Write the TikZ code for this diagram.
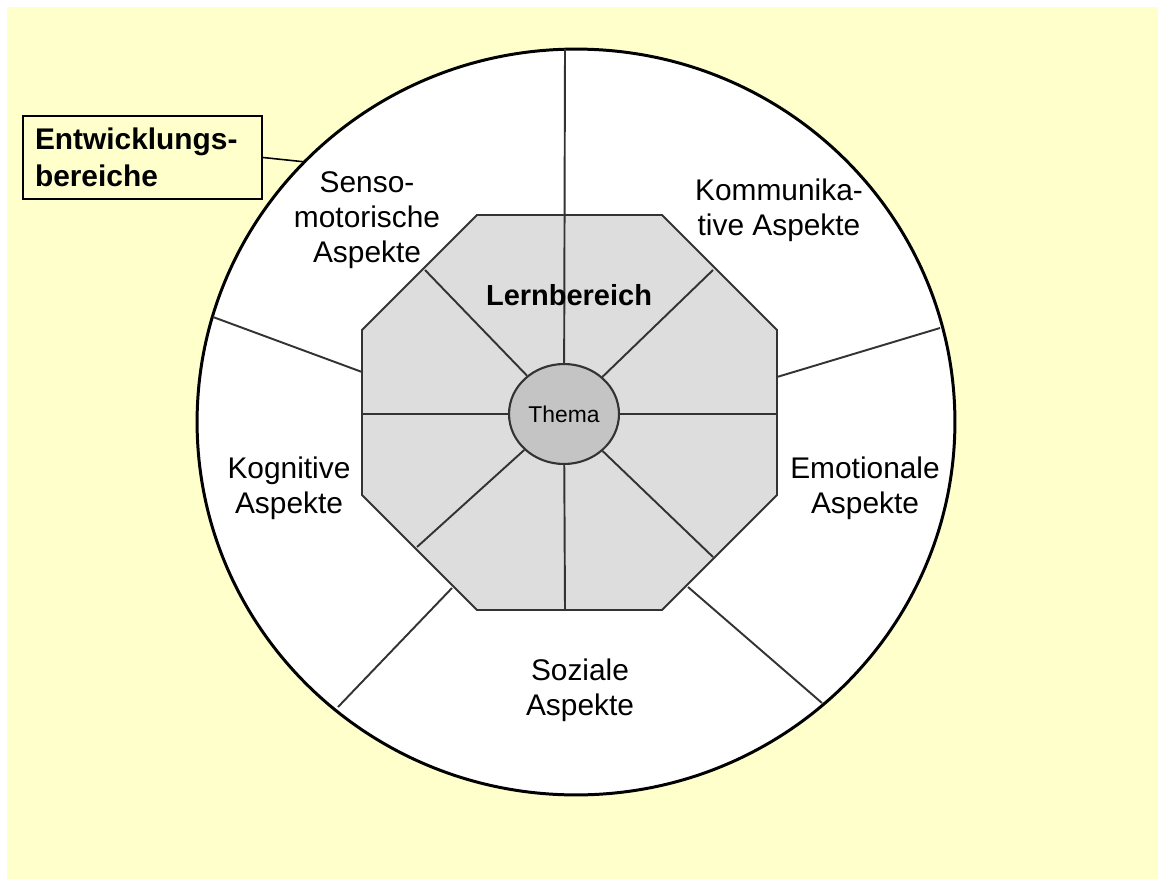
\documentclass[tikz,border=0pt]{standalone}
\usepackage{fontspec}
\setmainfont{Liberation Sans}
\usetikzlibrary{shapes.geometric}
\definecolor{paper}{HTML}{FFFFCC}
\definecolor{octfill}{HTML}{DDDDDD}
\definecolor{themafill}{HTML}{C4C4C4}
\definecolor{spokecol}{HTML}{333333}
\begin{document}
\begin{tikzpicture}[x=0.02cm, y=-0.02cm,
    aspect/.style={align=center, font=\fontsize{17}{20}\selectfont},
    spoke/.style={draw=spokecol, line width=1.1pt}]
  \useasboundingbox (0,0) rectangle (1158,879);
  \fill[paper] (7,7) rectangle (1158,879);
  % outer ring
  \draw[fill=white, line width=1.7pt] (576,422) ellipse [x radius=7.58cm, y radius=7.46cm];
  \coordinate (ringtop) at (565,49);
  \coordinate (ringhook) at (306,162);
  % outer spokes
  \draw[spoke] (213,317) -- (362,372);
  \draw[spoke] (777,377) -- (940,328);
  \draw[spoke] (338,707) -- (452,588);
  \draw[spoke] (688,587) -- (822,703);
  % octagon
  \draw[spoke, fill=octfill] (477,215) -- (662,215) -- (777,330) -- (777,495)
    -- (662,610) -- (477,610) -- (362,495) -- (362,330) -- cycle;
  \node[ellipse, draw=spokecol, fill=themafill, line width=1.2pt,
    minimum width=2.2cm, minimum height=2cm, inner sep=0pt,
    font=\fontsize{13}{15}\selectfont] (thema) at (564,414) {Thema};
  % inner spokes
  \foreach \p in {(ringtop), (565,610), (362,414), (777,414),
                  (425,270), (713,270), (417,547), (713,557)}
    \draw[spoke] \p -- (thema);
  \node[font=\bfseries\fontsize{16.5}{19}\selectfont] (lern) at (569,295) {Lernbereich};
  % labels
  \node[aspect] (senso) at (367,220) {Senso-\\motorische\\Aspekte};
  \node[aspect] (komm) at (779,210) {Kommunika-\\tive Aspekte};
  \node[aspect] (kogn) at (289,488) {Kognitive\\Aspekte};
  \node[aspect] (emo) at (865,488) {Emotionale\\Aspekte};
  \node[aspect] (soz) at (580,690) {Soziale\\Aspekte};
  \node[draw, fill=paper, line width=1.1pt, align=left, text width=4.3cm,
    inner xsep=0.24cm, minimum width=4.78cm, minimum height=1.66cm,
    font=\bfseries\fontsize{17}{21}\selectfont] (entw) at (142.5,157.5)
    {Entwicklungs-\\bereiche};
  \draw[line width=0.9pt] (entw.east) -- (ringhook);
\end{tikzpicture}
\end{document}
